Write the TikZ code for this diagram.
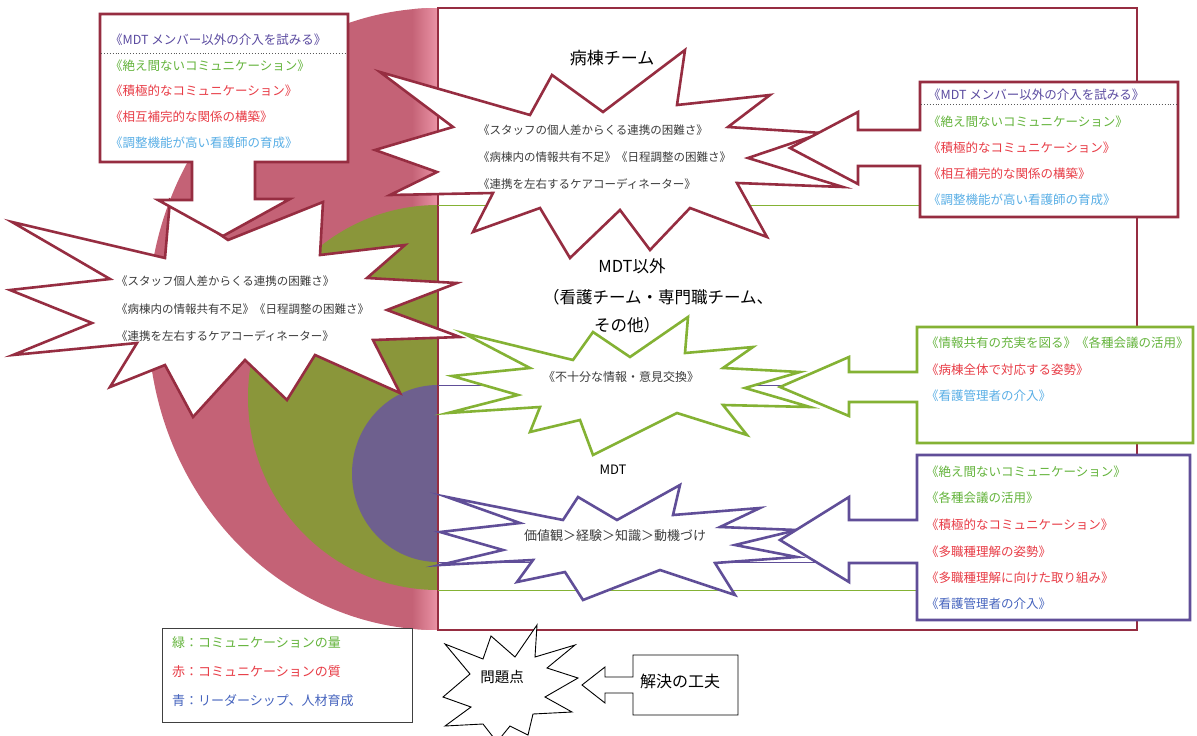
\documentclass[tikz,border=0pt]{standalone}
\usepackage{fontspec}
\newfontfamily\cjk{Noto Sans CJK JP}
\definecolor{rfill}{RGB}{196,98,118}
\definecolor{rlight}{RGB}{236,150,168}
\definecolor{gfill}{RGB}{138,150,58}
\definecolor{pfill}{RGB}{110,96,142}
\definecolor{dred}{RGB}{150,45,65}
\definecolor{lgreen}{RGB}{132,178,52}
\definecolor{dpurple}{RGB}{96,78,152}
\definecolor{tpurple}{RGB}{90,74,160}
\definecolor{tgreen}{RGB}{100,180,60}
\definecolor{tred}{RGB}{232,60,70}
\definecolor{tblue}{RGB}{90,175,230}
\definecolor{tnavy}{RGB}{70,100,190}
\definecolor{tgray}{RGB}{60,60,60}
\begin{document}
\begin{tikzpicture}[x=1pt,y=-1pt,
  every node/.style={inner sep=0pt, font=\cjk},
  item/.style={anchor=west, font=\cjk\fontsize{12.5}{14}\selectfont},
  bitem/.style={anchor=west, text=tgray, font=\cjk\fontsize{11.5}{13}\selectfont},
  litem/.style={anchor=west, font=\cjk\fontsize{13}{15}\selectfont},
  burst/.style={fill=white, line width=2.6pt, line join=miter, miter limit=20},
  callout/.style={fill=white, line width=2.6pt, line join=miter},
  title/.style={text=black, font=\cjk\fontsize{16.5}{20}\selectfont},
  thinline/.style={line width=0.8pt},
]
\useasboundingbox (0,0) rectangle (1197,736);
\fill[white] (0,0) rectangle (1197,736);

% background half shapes
\begin{scope}
\clip (0,0) rectangle (438,736);
\fill[rfill] (438,319) ellipse [x radius=290, y radius=311];
\begin{scope}
\clip (438,319) ellipse [x radius=290, y radius=311];
\shade[left color=rfill, right color=rlight] (412,0) rectangle (438.5,736);
\end{scope}
\fill[gfill] (438,397.5) ellipse [x radius=190, y radius=192.5];
\fill[pfill] (438,473.5) ellipse [x radius=86, y radius=88.5];
\end{scope}

% frame and inner lines
\draw[dred, line width=1.2pt] (438,8) rectangle (1137,630);
\draw[lgreen, thinline] (438,205) -- (1137,205);
\draw[lgreen, thinline] (438,590) -- (1137,590);
\draw[dpurple, line width=0.6pt] (438,385) -- (1137,385);
\draw[dpurple, line width=0.6pt] (438,562) -- (1137,562);

% starburst S2 (left)
\draw[burst, draw=dred] (12,222) -- (165,258) -- (170,200) -- (228,240) -- (323,202) -- (320,255) -- (405,245) -- (367,278) -- (457,283) -- (387,310) -- (460,337) -- (373,340) -- (400,393) -- (315,355) -- (287,400) -- (245,360) -- (193,417) -- (165,365) -- (110,387) -- (137,343) -- (13,355) -- (92,323) -- (10,290) -- (110,279) -- cycle;

% starburst S1 (top centre)
\draw[burst, draw=dred] (380,72) -- (530,115) -- (552,75) -- (603,112) -- (685,50) -- (677,105) -- (770,95) -- (728,127) -- (822,133) -- (748,158) -- (843,187) -- (737,183) -- (767,237) -- (690,208) -- (650,250) -- (620,210) -- (570,258) -- (540,208) -- (473,232) -- (493,193) -- (390,195) -- (437,172) -- (375,150) -- (453,127) -- cycle;

% starburst S3 (green)
\draw[burst, draw=lgreen] (688,317) -- (685,353) -- (753,347) -- (723,368) -- (800,372) -- (745,388) -- (810,407) -- (723,405) -- (747,435) -- (677,413) -- (593,455) -- (580,420) -- (530,432) -- (540,407) -- (448,413) -- (518,395) -- (452,376) -- (530,368) -- (463,333) -- (573,360) -- (593,332) -- (630,357) -- cycle;

% starburst S4 (purple)
\draw[burst, draw=dpurple] (447,497) -- (563,520) -- (578,497) -- (617,520) -- (680,485) -- (673,515) -- (760,508) -- (720,527) -- (797,530) -- (735,545) -- (797,557) -- (715,563) -- (735,595) -- (660,570) -- (583,600) -- (565,572) -- (517,582) -- (533,560) -- (440,565) -- (503,550) -- (440,532) -- (520,523) -- cycle;

% starburst S5 (key)
\draw[fill=white, line width=0.9pt, line join=miter, miter limit=20] (537,625) -- (515,657) -- (491,636) -- (483,659) -- (445,644) -- (470,674) -- (443,697) -- (471,707) -- (445,726) -- (483,724) -- (497,742) -- (510,726) -- (528,735) -- (533,714) -- (572,712) -- (545,697) -- (578,678) -- (547,668) -- (575,645) -- (535,657) -- cycle;

% callouts
\draw[callout, draw=dred] (100,14) -- (348,14) -- (348,162) -- (255,162) -- (255,199) -- (290,199) -- (223,236) -- (158,200) -- (192,200) -- (192,162) -- (100,162) -- cycle;
\draw[callout, draw=dred] (920,82) -- (1178,82) -- (1178,217) -- (920,217) -- (920,166) -- (858,166) -- (858,184) -- (790,148) -- (858,112) -- (858,130) -- (920,130) -- cycle;
\draw[callout, draw=lgreen] (917,327) -- (1193,327) -- (1193,443) -- (917,443) -- (917,402) -- (849,402) -- (849,416) -- (780,387) -- (849,357) -- (849,372) -- (917,372) -- cycle;
\draw[callout, draw=dpurple] (917,455) -- (1190,455) -- (1190,620) -- (917,620) -- (917,563) -- (849,563) -- (849,582) -- (780,540) -- (849,497) -- (849,520) -- (917,520) -- cycle;
\draw[fill=white, line width=0.9pt] (633,655) -- (738,655) -- (738,715) -- (633,715) -- (633,693) -- (605,693) -- (605,703) -- (582,685) -- (605,667) -- (605,677) -- (633,677) -- cycle;

% dotted separators
\draw[black!65, dotted, line width=0.9pt] (101,53) -- (347,53);
\draw[black!65, dotted, line width=0.9pt] (921,104) -- (1177,104);

% legend box
\draw[black!75, line width=0.9pt] (162,628) rectangle (412,722);

% titles
\node[title, font=\cjk\fontsize{17}{20}\selectfont] (ward) at (612,58) {病棟チーム};
\node[title] (nonmdt) at (632,266) {MDT以外};
\node[title] (nonmdt2) at (658,297) {（看護チーム・専門職チーム、};
\node[title] (nonmdt3) at (627,325) {その他）};
\node[font=\cjk\fontsize{13}{15}\selectfont] (mdt) at (613,470) {MDT};

% top-left box texts
\node[item, text=tpurple] (a1) at (110,40) {《MDT メンバー以外の介入を試みる》};
\node[item, text=tgreen] (a2) at (110,66) {《絶え間ないコミュニケーション》};
\node[item, text=tred] (a3) at (110,91) {《積極的なコミュニケーション》};
\node[item, text=tred] (a4) at (110,117) {《相互補完的な関係の構築》};
\node[item, text=tblue] (a5) at (110,143) {《調整機能が高い看護師の育成》};

% top-right box texts
\node[item, text=tpurple] (b1) at (928,95) {《MDT メンバー以外の介入を試みる》};
\node[item, text=tgreen] (b2) at (928,122) {《絶え間ないコミュニケーション》};
\node[item, text=tred] (b3) at (928,148) {《積極的なコミュニケーション》};
\node[item, text=tred] (b4) at (928,174) {《相互補完的な関係の構築》};
\node[item, text=tblue] (b5) at (928,200) {《調整機能が高い看護師の育成》};

% S1 texts
\node[bitem] (c1) at (478,130) {《スタッフの個人差からくる連携の困難さ》};
\node[bitem] (c2) at (478,157) {《病棟内の情報共有不足》《日程調整の困難さ》};
\node[bitem] (c3) at (478,184) {《連携を左右するケアコーディネーター》};

% S2 texts
\node[bitem] (d1) at (116,281) {《スタッフ個人差からくる連携の困難さ》};
\node[bitem] (d2) at (116,309) {《病棟内の情報共有不足》《日程調整の困難さ》};
\node[bitem] (d3) at (116,336) {《連携を左右するケアコーディネーター》};

% S3, S4 texts
\node[bitem, anchor=center, font=\cjk\fontsize{12}{14}\selectfont] (e1) at (621,377) {《不十分な情報・意見交換》};
\node[anchor=center, text=tgray, font=\cjk\fontsize{13}{15}\selectfont] (f1) at (615,536) {価値観＞経験＞知識＞動機づけ};

% green box texts
\node[item, text=tgreen] (g1) at (926,343) {《情報共有の充実を図る》《各種会議の活用》};
\node[item, text=tred] (g2) at (926,370) {《病棟全体で対応する姿勢》};
\node[item, text=tblue] (g3) at (926,396) {《看護管理者の介入》};

% purple box texts
\node[item, text=tgreen] (h1) at (926,472) {《絶え間ないコミュニケーション》};
\node[item, text=tgreen] (h2) at (926,498) {《各種会議の活用》};
\node[item, text=tred] (h3) at (926,525) {《積極的なコミュニケーション》};
\node[item, text=tred] (h4) at (926,552) {《多職種理解の姿勢》};
\node[item, text=tred] (h5) at (926,578) {《多職種理解に向けた取り組み》};
\node[item, text=tnavy] (h6) at (926,604) {《看護管理者の介入》};

% legend texts
\node[litem, text=tgreen] (l1) at (172,643) {緑：コミュニケーションの量};
\node[litem, text=tred] (l2) at (172,672) {赤：コミュニケーションの質};
\node[litem, text=tnavy] (l3) at (172,701) {青：リーダーシップ、人材育成};

% key texts
\node[font=\cjk\fontsize{14.5}{17}\selectfont] (prob) at (502,677) {問題点};
\node[anchor=west, font=\cjk\fontsize{16}{19}\selectfont] (sol) at (640,681) {解決の工夫};
\end{tikzpicture}
\end{document}
